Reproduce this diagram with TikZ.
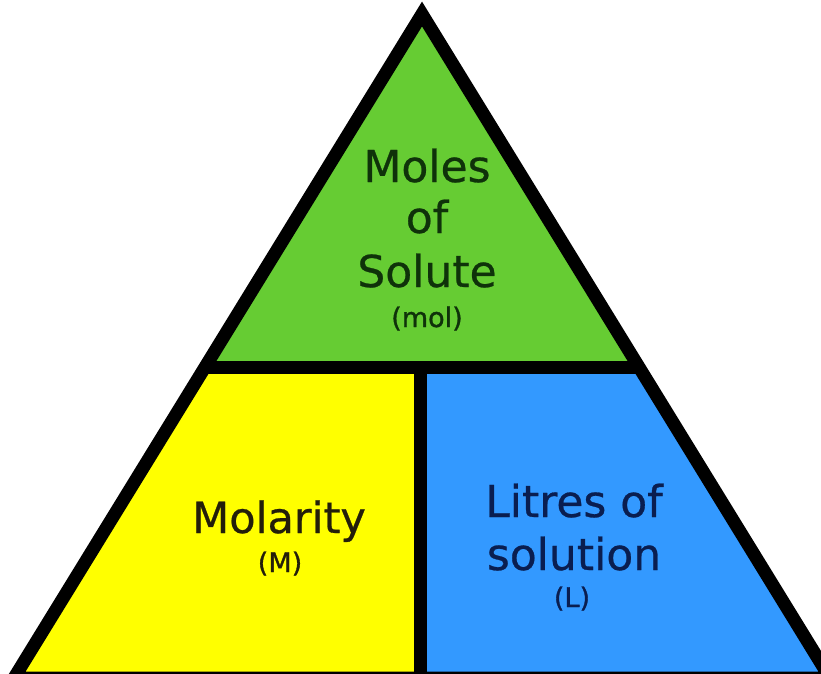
\documentclass[tikz,border=0pt]{standalone}
\usepackage{fontspec}
\setmainfont{DejaVu Sans}
\newfontfamily\labelfont[FakeBold=0.6]{DejaVu Sans}
\newfontfamily\unitfont[FakeBold=1.2]{DejaVu Sans}
\definecolor{topgreen}{RGB}{102,204,51}
\definecolor{leftyellow}{RGB}{255,255,0}
\definecolor{rightblue}{RGB}{51,153,255}
\definecolor{greentext}{RGB}{15,50,10}
\definecolor{yellowtext}{RGB}{35,30,10}
\definecolor{bluetext}{RGB}{10,30,80}
\tikzset{
  edge/.style={draw=black, line width=13pt, line join=miter},
  bigtext/.style={anchor=base, inner sep=0pt, font=\labelfont\fontsize{44}{52}\selectfont},
  smalltext/.style={anchor=base, inner sep=0pt, font=\unitfont\fontsize{27}{32}\selectfont},
}
\begin{document}
\begin{tikzpicture}[x=1pt, y=-1pt]
\useasboundingbox (0,0) rectangle (821,673);
\clip (0,0) rectangle (821,673);
\fill[white] (0,0) rectangle (821,673);
% corner coordinates
\coordinate (apex) at (422,14);
\coordinate (ml) at (202.5,367);
\coordinate (mr) at (641.5,367);
\coordinate (mc) at (420,367);
\coordinate (bl) at (14,678);
\coordinate (br) at (830,678);
\coordinate (bc) at (420,678);
% regions
\fill[topgreen] (apex) -- (mr) -- (ml) -- cycle;
\fill[leftyellow] (ml) -- (mc) -- (bc) -- (bl) -- cycle;
\fill[rightblue] (mc) -- (mr) -- (br) -- (bc) -- cycle;
% outline and dividers
\draw[edge] (apex) -- (br) -- (bl) -- cycle;
\draw[edge] (ml) -- (mr);
\draw[edge] (mc) -- (bc);
% texts
\node[bigtext, text=greentext] (moles) at (427,182) {Moles};
\node[bigtext, text=greentext] (of) at (427,233) {of};
\node[bigtext, text=greentext] (solute) at (427,287) {Solute};
\node[smalltext, text=greentext] (mol) at (427,327) {(mol)};
\node[bigtext, font=\labelfont\fontsize{43}{50}\selectfont, text=yellowtext] (molarity) at (279,533) {Molarity};
\node[smalltext, text=yellowtext] (munit) at (280,572) {(M)};
\node[bigtext, text=bluetext] (litres) at (574,517) {Litres of};
\node[bigtext, text=bluetext] (solution) at (574,570) {solution};
\node[smalltext, text=bluetext] (lunit) at (572,607) {(L)};
\end{tikzpicture}
\end{document}
